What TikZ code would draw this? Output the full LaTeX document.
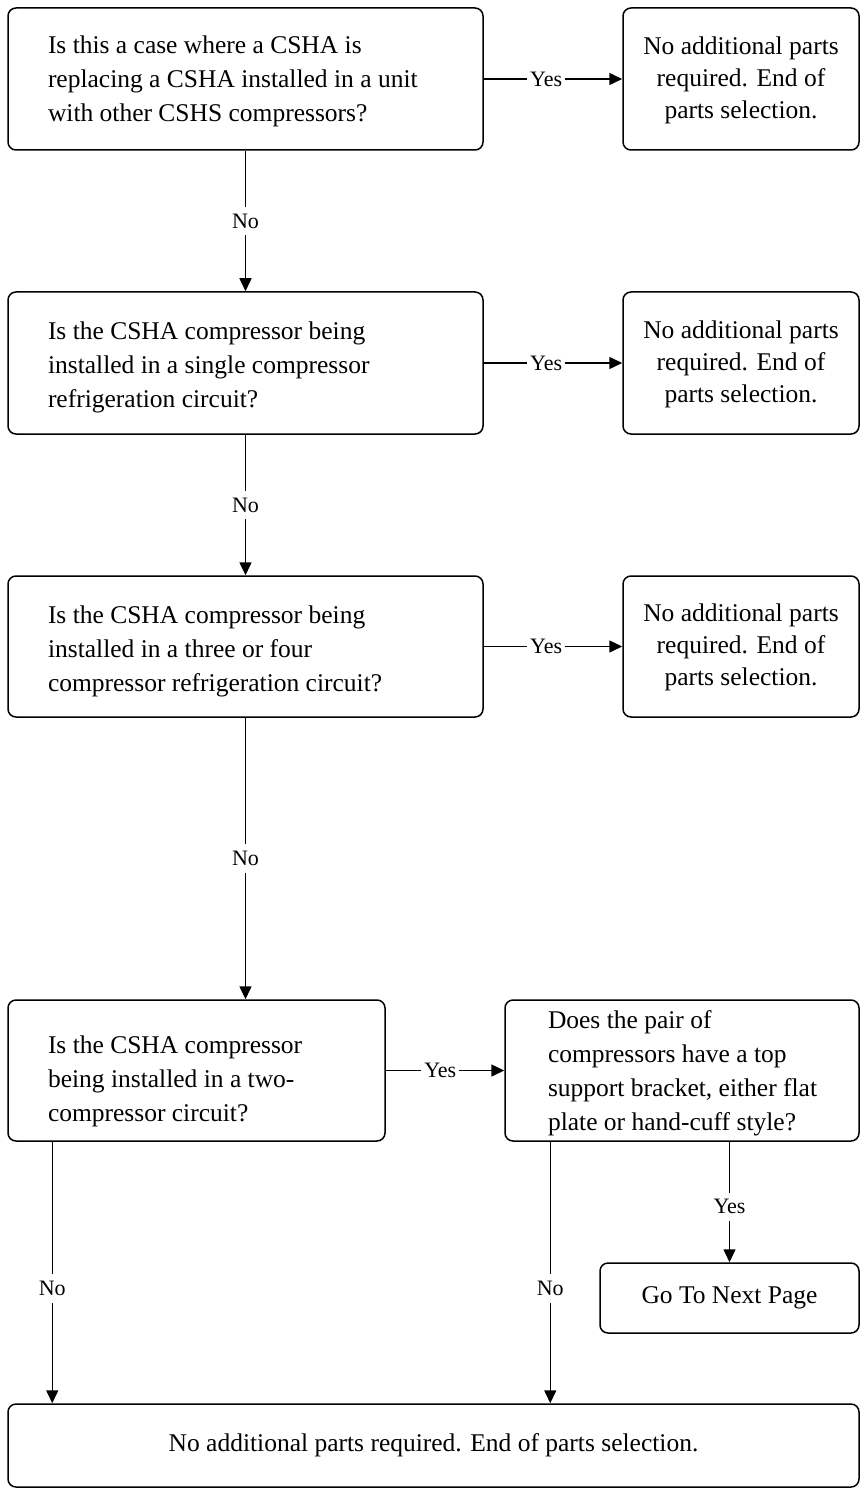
\documentclass[tikz,border=0pt]{standalone}
\usepackage{fontspec}
\setmainfont{Liberation Serif}
\usetikzlibrary{arrows.meta}
\newcommand{\lefttext}[4]{\makebox[#1][l]{\hspace*{#2}\raisebox{#3}[\height][\depth]{\begin{tabular}{@{}l@{}}#4\end{tabular}}}}
\newcommand{\midtext}[2]{\raisebox{#1}[\height][\depth]{\begin{tabular}{@{}c@{}}#2\end{tabular}}}
\begin{document}
\begin{tikzpicture}[x=1pt,y=-1pt,
  box/.style={draw, line width=1.5pt, rounded corners=8pt, inner sep=0pt},
  qbox/.style={box, font=\fontsize{25.5}{34}\selectfont},
  rbox/.style={box, font=\fontsize{25.5}{32}\selectfont},
  arr/.style={line width=1.5pt, -{Triangle[length=13pt,width=12pt]}},
  lbl/.style={fill=white, inner xsep=3pt, inner ysep=7pt, font=\fontsize{22}{26}\selectfont}]
\useasboundingbox (0,0) rectangle (860,1495);
% row 1
\node[qbox, minimum width=475pt, minimum height=142pt] (b1) at (245.5,79)
  {\lefttext{475pt}{40pt}{-2pt}{Is this a case where a CSHA is\\ replacing a CSHA installed in a unit\\ with other CSHS compressors?}};
\node[rbox, minimum width=236pt, minimum height=142pt] (r1) at (741,79)
  {\midtext{-1pt}{No additional parts\\ required. End of\\ parts selection.}};
% row 2
\node[qbox, minimum width=475pt, minimum height=142pt] (b2) at (245.5,363)
  {\lefttext{475pt}{40pt}{-4pt}{Is the CSHA compressor being\\ installed in a single compressor\\ refrigeration circuit?}};
\node[rbox, minimum width=236pt, minimum height=142pt] (r2) at (741,363)
  {\midtext{-1pt}{No additional parts\\ required. End of\\ parts selection.}};
% row 3
\node[qbox, minimum width=475pt, minimum height=141pt] (b3) at (245.5,646.5)
  {\lefttext{475pt}{40pt}{-4pt}{Is the CSHA compressor being\\ installed in a three or four\\ compressor refrigeration circuit?}};
\node[rbox, minimum width=236pt, minimum height=141pt] (r3) at (741,646.5)
  {\midtext{-1pt}{No additional parts\\ required. End of\\ parts selection.}};
% row 4
\node[qbox, minimum width=377pt, minimum height=141pt] (b4) at (196.5,1070.5)
  {\lefttext{377pt}{40pt}{-10pt}{Is the CSHA compressor\\ being installed in a two-\\ compressor circuit?}};
\node[qbox, minimum width=354pt, minimum height=141pt] (r4) at (682,1070.5)
  {\lefttext{354pt}{43pt}{-2pt}{Does the pair of\\ compressors have a top\\ support bracket, either flat\\ plate or hand-cuff style?}};
\node[rbox, minimum width=259pt, minimum height=70pt] (go) at (729.5,1298)
  {Go To Next Page};
\node[rbox, minimum width=851pt, minimum height=83pt] (bot) at (433.5,1445.5)
  {No additional parts required. End of parts selection.};
% connectors
\draw[arr] (b1.east) -- node[lbl, pos=0.45]{Yes} (r1.west);
\draw[arr] (b2.east) -- node[lbl, pos=0.45]{Yes} (r2.west);
\draw[arr] (b3.east) -- node[lbl, pos=0.45]{Yes} (r3.west);
\draw[arr] (b4.east) -- node[lbl, pos=0.46]{Yes} (r4.west);
\draw[arr] (b1.south) -- node[lbl]{No} (b2.north);
\draw[arr] (b2.south) -- node[lbl]{No} (b3.north);
\draw[arr] (b3.south) -- node[lbl]{No} (b3.south |- b4.north);
\draw[arr] ([xshift=45pt]b4.south west) -- node[lbl, pos=0.56]{No} ([xshift=45pt]b4.south west |- bot.north);
\draw[arr] ([xshift=46pt]r4.south west) -- node[lbl, pos=0.56]{No} ([xshift=46pt]r4.south west |- bot.north);
\draw[arr] (r4.south -| go.north) -- node[lbl, pos=0.54]{Yes} (go.north);
\end{tikzpicture}
\end{document}
